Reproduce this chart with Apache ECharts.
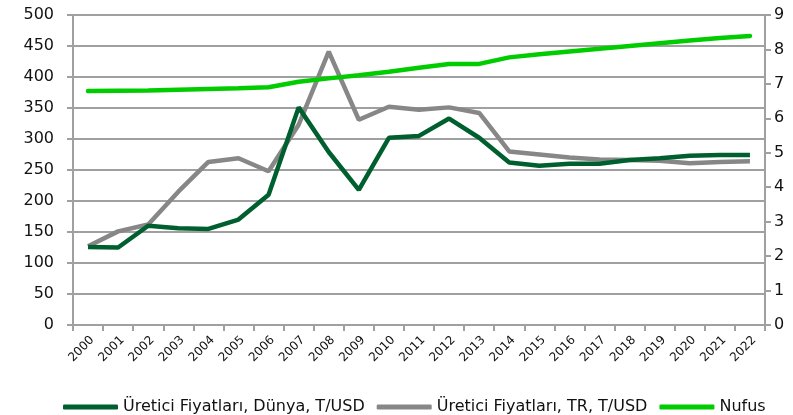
<!DOCTYPE html>
<html>
<head>
<meta charset="utf-8">
<script src="https://cdn.jsdelivr.net/npm/echarts@6/dist/echarts.min.js"></script>
<style>
html, body { margin: 0; padding: 0; background: #fff; }
#chart { width: 793px; height: 415px; }
</style>
</head>
<body>
<div id="chart"></div>
<script>
var years = ['2000', '2001', '2002', '2003', '2004', '2005', '2006', '2007', '2008', '2009', '2010', '2011',
    '2012', '2013', '2014', '2015', '2016', '2017', '2018', '2019', '2020', '2021', '2022'];
var dunya = [126, 125, 160, 156, 155, 170, 210, 351, 279, 218, 302, 305, 333, 302, 262, 257, 260, 260, 266, 269, 273, 274, 274];
var tr = [127, 151, 162, 215, 263, 269, 248, 323, 441, 331, 352, 347, 351, 342, 280, 275, 270, 267, 266, 265, 261, 263, 264];
var nufus = [6.79, 6.80, 6.81, 6.83, 6.85, 6.87, 6.90, 7.06, 7.16, 7.25, 7.35, 7.47, 7.58, 7.58, 7.77, 7.86, 7.94, 8.02, 8.10, 8.18, 8.26, 8.33, 8.39];
var names = ['Üretici Fiyatları, Dünya, T/USD', 'Üretici Fiyatları, TR, T/USD', 'Nufus'];

var myChart = echarts.init(document.getElementById('chart'));
var axisCol = '#a0a0a0';
var option = {
    animation: false,
    grid: { left: 73, right: 28, top: 15, bottom: 90 },
    legend: {
        top: 394,
        left: 58,
        itemWidth: 55,
        itemHeight: 5,
        itemGap: 12,
        icon: 'roundRect',
        textStyle: { fontFamily: 'DejaVu Sans', fontSize: 16, color: '#111' },
        data: names
    },
    xAxis: {
        type: 'category',
        data: years,
        boundaryGap: true,
        axisLine: { lineStyle: { color: axisCol, width: 2 } },
        axisTick: { show: true, length: 6, lineStyle: { color: axisCol, width: 2 } },
        axisLabel: { rotate: 45, fontFamily: 'DejaVu Sans', fontSize: 12, color: '#111', margin: 9, verticalAlign: 'top' }
    },
    yAxis: [{
        type: 'value',
        min: 0, max: 500, interval: 50,
        axisLine: { show: true, lineStyle: { color: axisCol, width: 2 } },
        axisTick: { show: true, length: 6, lineStyle: { color: axisCol, width: 2 } },
        splitLine: { lineStyle: { color: axisCol, width: 2 } },
        axisLabel: { fontFamily: 'DejaVu Sans', fontSize: 16, color: '#111', margin: 19 }
    }, {
        type: 'value',
        min: 0, max: 9, interval: 1,
        axisLine: { show: true, lineStyle: { color: axisCol, width: 2 } },
        axisTick: { show: true, length: 6, lineStyle: { color: axisCol, width: 2 } },
        splitLine: { show: false },
        axisLabel: { fontFamily: 'DejaVu Sans', fontSize: 16, color: '#111', margin: 9 }
    }],
    series: [{
        name: names[0], type: 'line', data: dunya, yAxisIndex: 0,
        symbol: 'none', color: '#005f2f', lineStyle: { width: 4.5, color: '#005f2f' }, z: 3
    }, {
        name: names[1], type: 'line', data: tr, yAxisIndex: 0,
        symbol: 'none', color: '#878787', lineStyle: { width: 4.5, color: '#878787' }, z: 2
    }, {
        name: names[2], type: 'line', data: nufus, yAxisIndex: 1,
        symbol: 'none', color: '#00cc00', lineStyle: { width: 4.5, color: '#00cc00', cap: 'round' }, z: 4
    }]
};
myChart.setOption(option);
</script>
</body>
</html>
